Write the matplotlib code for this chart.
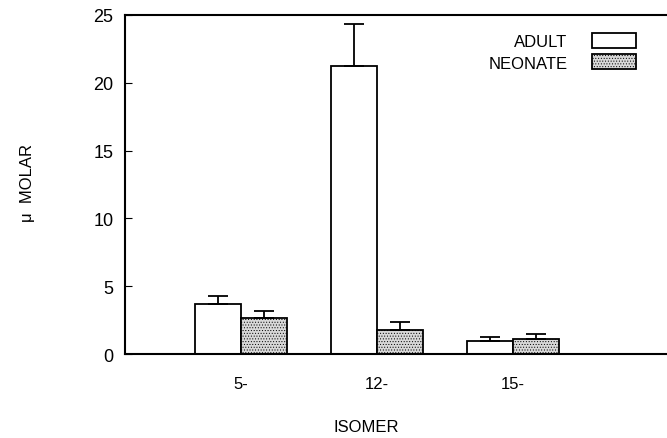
import matplotlib
matplotlib.use("Agg")
from matplotlib import pyplot as plt
import numpy as np

isomers = ["5-", "12-", "15-"]
adult = [3.7, 21.2, 1.0]
adult_err = [0.6, 3.1, 0.3]
neonate = [2.65, 1.75, 1.15]
neonate_err = [0.55, 0.65, 0.3]

plt.rcParams["font.family"] = ["Liberation Sans", "DejaVu Sans"]
plt.rcParams["hatch.linewidth"] = 0.4

fig = plt.figure(figsize=(6.67, 4.39), dpi=100)
ax = fig.add_axes([0.187, 0.191, 0.813, 0.773])

x = np.arange(len(isomers))
w = 0.34
ax.bar(x - w / 2, adult, w, color="white", edgecolor="black", linewidth=1.3,
       yerr=[[0] * 3, adult_err], capsize=7, error_kw=dict(elinewidth=1.3, capthick=1.3),
       label="ADULT")
ax.bar(x + w / 2, neonate, w, color="#d8d8d8", edgecolor="black", linewidth=1.3,
       hatch="......", yerr=[[0] * 3, neonate_err], capsize=7,
       error_kw=dict(elinewidth=1.3, capthick=1.3), label="NEONATE")

ax.set_xlim(-0.853, 3.13)
ax.set_ylim(0, 25)
ax.set_yticks([0, 5, 10, 15, 20, 25])
ax.set_xticks(x)
ax.set_xticklabels(isomers)
ax.tick_params(axis="y", direction="in", length=5, labelsize=13, pad=8)
ax.tick_params(axis="x", length=0, labelsize=12, pad=16)
ax.spines["right"].set_visible(False)
for s in ["left", "top", "bottom"]:
    ax.spines[s].set_linewidth(1.5)

ax.set_xlabel("ISOMER", fontsize=12)
ax.xaxis.set_label_coords(0.446, -0.19)
ax.set_ylabel("\u03bc  MOLAR", fontsize=12)
ax.yaxis.set_label_coords(-0.166, 0.507)

ax.legend(loc="upper right", bbox_to_anchor=(0.97, 0.99), frameon=False,
          markerfirst=False, fontsize=12, handlelength=2.6, handleheight=1.0,
          labelspacing=0.3, handletextpad=1.5)

fig.savefig("out.png", dpi=100)
